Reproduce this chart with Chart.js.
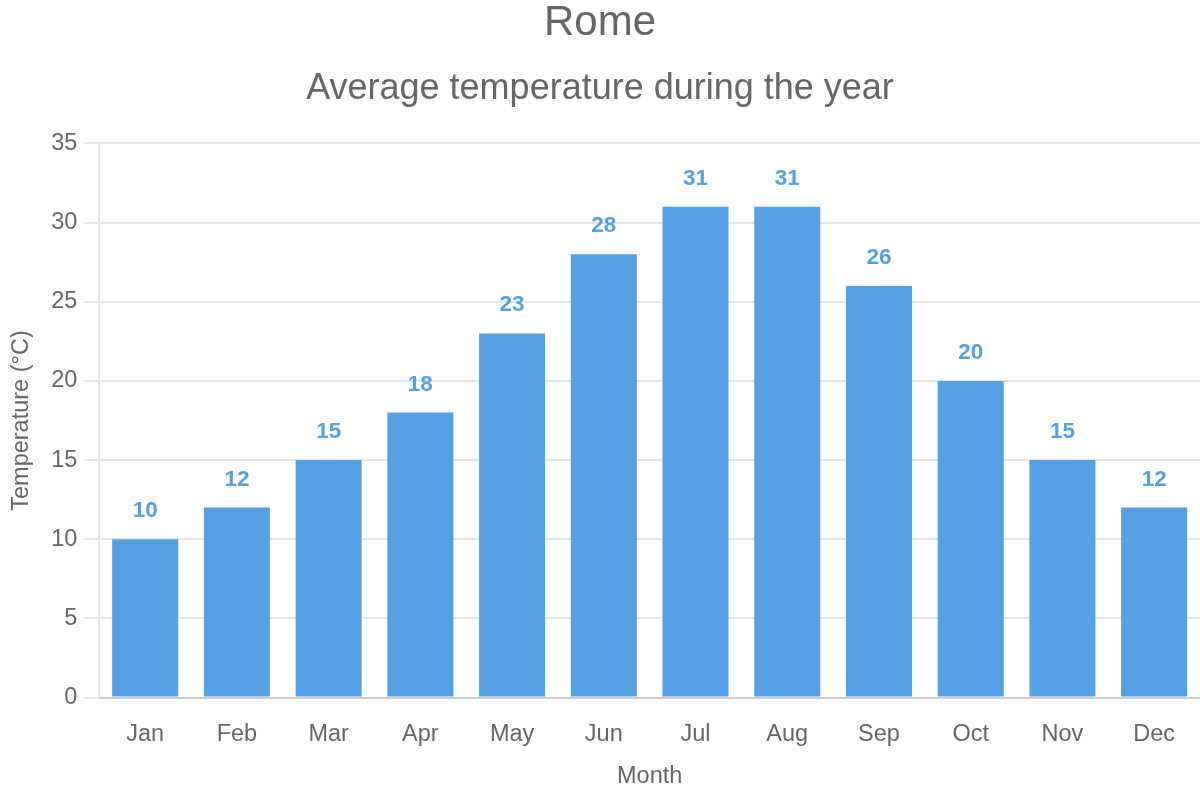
<!DOCTYPE html>
<html>
<head>
<meta charset="utf-8">
<title>Rome - Average temperature</title>
<script src="https://cdn.jsdelivr.net/npm/chart.js@4"></script>
<style>
  html, body { margin: 0; padding: 0; background: #fff; }
  #wrap { width: 1200px; height: 800px; position: relative; }
</style>
</head>
<body>
<div id="wrap"><canvas id="chart"></canvas></div>
<script>
// Données
const months = ['Jan', 'Feb', 'Mar', 'Apr', 'May', 'Jun', 'Jul', 'Aug', 'Sep', 'Oct', 'Nov', 'Dec'];
const temperatures = [10, 12, 15, 18, 23, 28, 31, 31, 26, 20, 15, 12];
const yTicks = [0, 5, 10, 15, 20, 25, 30, 35];

const barColor = '#55a0e4';
const textColor = '#666666';
const fontFamily = 'Arial, "Liberation Sans", sans-serif';

// Plugin pour écrire la valeur au-dessus de chaque barre
const valueLabels = {
    id: 'valueLabels',
    afterDatasetsDraw(chart) {
        const ctx = chart.ctx;
        ctx.save();
        ctx.font = 'bold 22.5px ' + fontFamily;
        ctx.fillStyle = barColor;
        ctx.textAlign = 'center';
        ctx.textBaseline = 'alphabetic';
        chart.getDatasetMeta(0).data.forEach((bar, i) => {
            ctx.fillText(chart.data.datasets[0].data[i], bar.x, bar.y - 22);
        });
        ctx.restore();
    }
};

const ctx = document.getElementById('chart').getContext('2d');
new Chart(ctx, {
    type: 'bar',
    data: {
        labels: months,
        datasets: [{
            label: 'Temperature',
            data: temperatures,
            backgroundColor: barColor,
            borderWidth: 0
        }]
    },
    options: {
        responsive: true,
        maintainAspectRatio: false,
        devicePixelRatio: 1,
        animation: false,
        layout: {
            padding: { left: 0, right: 0, top: 0, bottom: 9 }
        },
        plugins: {
            legend: { display: false },
            tooltip: { enabled: false },
            title: {
                display: true,
                text: 'Rome',
                color: textColor,
                font: { family: fontFamily, size: 42, weight: 'normal', lineHeight: 1.1 },
                padding: { top: 0, bottom: 21 }
            },
            subtitle: {
                display: true,
                text: 'Average temperature during the year',
                color: textColor,
                font: { family: fontFamily, size: 36, weight: 'normal' },
                padding: { top: 0, bottom: 33 }
            }
        },
        scales: {
            x: {
                grid: {
                    display: true,
                    drawOnChartArea: false,
                    drawTicks: true,
                    tickLength: 23,
                    color: 'rgba(0,0,0,0)'
                },
                border: { display: true, color: '#cccccc', width: 2 },
                ticks: {
                    color: textColor,
                    font: { family: fontFamily, size: 23.5 },
                    padding: 0
                },
                title: {
                    display: true,
                    text: 'Month',
                    color: textColor,
                    font: { family: fontFamily, size: 23.5 },
                    padding: { top: 14, bottom: 0 }
                }
            },
            y: {
                min: 0,
                max: 35,
                afterBuildTicks(scale) {
                    scale.ticks = yTicks.map(v => ({ value: v }));
                },
                grid: { color: '#e6e6e6', lineWidth: 2, tickLength: 15 },
                border: { display: true, color: '#e6e6e6', width: 2 },
                ticks: {
                    color: textColor,
                    font: { family: fontFamily, size: 23.5 },
                    padding: 7
                },
                title: {
                    display: true,
                    text: 'Temperature (°C)',
                    color: textColor,
                    font: { family: fontFamily, size: 23.5 },
                    padding: { top: 7, bottom: 9 }
                }
            }
        }
    },
    plugins: [valueLabels]
});
</script>
</body>
</html>
